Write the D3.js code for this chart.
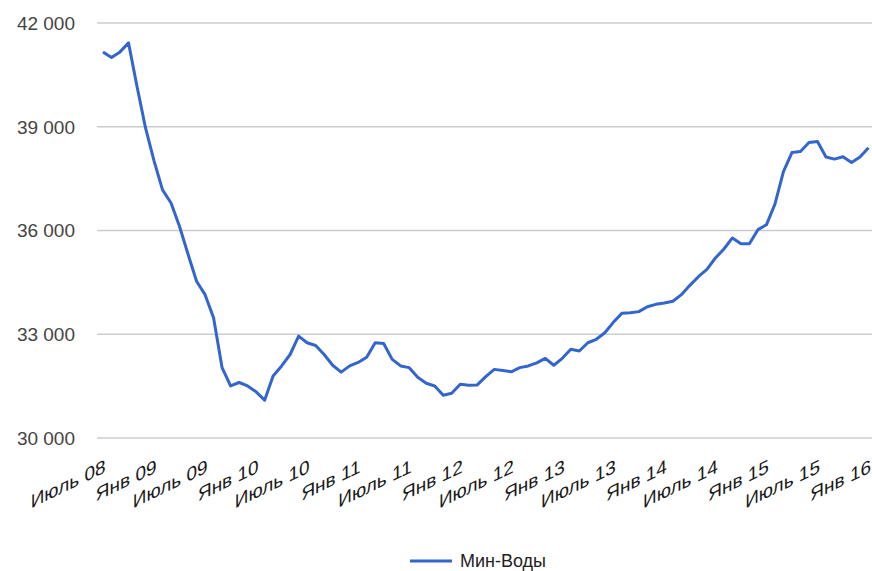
<!DOCTYPE html>
<html>
<head>
<meta charset="utf-8">
<script src="https://cdn.jsdelivr.net/npm/d3@7/dist/d3.min.js"></script>
<style>
  html, body { margin: 0; padding: 0; background: #fff; }
  svg { display: block; }
  text { font-family: Arial, "Liberation Sans", sans-serif; }
</style>
</head>
<body>
<svg id="chart" width="872" height="571"></svg>
<script>
// Monthly values, Июль 08 .. Янв 16
const values = [
  41150, 40990, 41150, 41410, 40150, 38950, 38000, 37160, 36780, 36100,
  35300, 34520, 34130, 33460, 32020, 31490, 31590, 31490, 31320, 31080,
  31780, 32070, 32400, 32930, 32740, 32660, 32400, 32090, 31890, 32070,
  32170, 32320, 32740, 32720, 32260, 32070, 32020, 31740, 31570, 31490,
  31220, 31280, 31540, 31510, 31520, 31760, 31970, 31940, 31900, 32020,
  32070, 32160, 32290, 32090, 32290, 32550, 32500, 32740, 32840, 33030,
  33330, 33590, 33610, 33640, 33780, 33850, 33890, 33940, 34130, 34400,
  34650, 34860, 35190, 35450, 35770, 35600, 35600, 36010, 36150, 36750,
  37690, 38240, 38270, 38530, 38560, 38110, 38050, 38120, 37950, 38110,
  38380
];
const tickLabels = ["Июль 08","Янв 09","Июль 09","Янв 10","Июль 10","Янв 11","Июль 11","Янв 12",
                    "Июль 12","Янв 13","Июль 13","Янв 14","Июль 14","Янв 15","Июль 15","Янв 16"];
const yTicks = [30000, 33000, 36000, 39000, 42000];
const seriesName = "Мин-Воды";

const svg = d3.select("#chart");
const x = d3.scaleLinear().domain([0, values.length - 1]).range([103, 868.5]);
const y = d3.scaleLinear().domain([30000, 42000]).range([437.5, 22.5]);
const fmt = d3.formatLocale({decimal: ",", thousands: " ", grouping: [3], currency: ["", ""]}).format(",d");

// Gridlines + y labels
const yAxis = d3.axisLeft(y).tickValues(yTicks).tickSize(-(872 - 97)).tickFormat(fmt).tickPadding(22);
const gy = svg.append("g").attr("transform", "translate(97,0)").call(yAxis);
gy.select(".domain").remove();
gy.selectAll(".tick line").attr("stroke", "#cccccc").attr("stroke-width", 1.5);
gy.selectAll(".tick text").attr("fill", "#444").attr("font-size", 19).attr("dy", "0.36em");

// X labels, every 6 months (slanted baseline, upright glyphs)
const tickIdx = tickLabels.map((d, i) => i * 6);
const xAxis = d3.axisBottom(x).tickValues(tickIdx).tickSize(0).tickFormat((d, i) => tickLabels[i]);
const gx = svg.append("g").attr("transform", "translate(0,472)").call(xAxis);
gx.select(".domain").remove();
gx.selectAll(".tick text")
  .attr("fill", "#1a1a1a").attr("font-size", 19)
  .attr("text-anchor", "end")
  .attr("dy", 0).attr("y", 0).attr("x", 0)
  .attr("transform", "translate(2,0) skewY(-26)");

// Line
const line = d3.line().x((d, i) => x(i)).y(d => y(d));
svg.append("path").datum(values)
  .attr("fill", "none").attr("stroke", "#3366cc").attr("stroke-width", 3)
  .attr("stroke-linejoin", "round")
  .attr("d", line);

// Legend
const lg = svg.append("g").attr("transform", "translate(410,561)");
lg.append("line").attr("x1", 0).attr("x2", 42).attr("y1", 0).attr("y2", 0)
  .attr("stroke", "#3366cc").attr("stroke-width", 3);
lg.append("text").attr("x", 50).attr("y", 0).attr("dy", "0.36em")
  .attr("font-size", 18).attr("fill", "#222").text(seriesName);
</script>
</body>
</html>
